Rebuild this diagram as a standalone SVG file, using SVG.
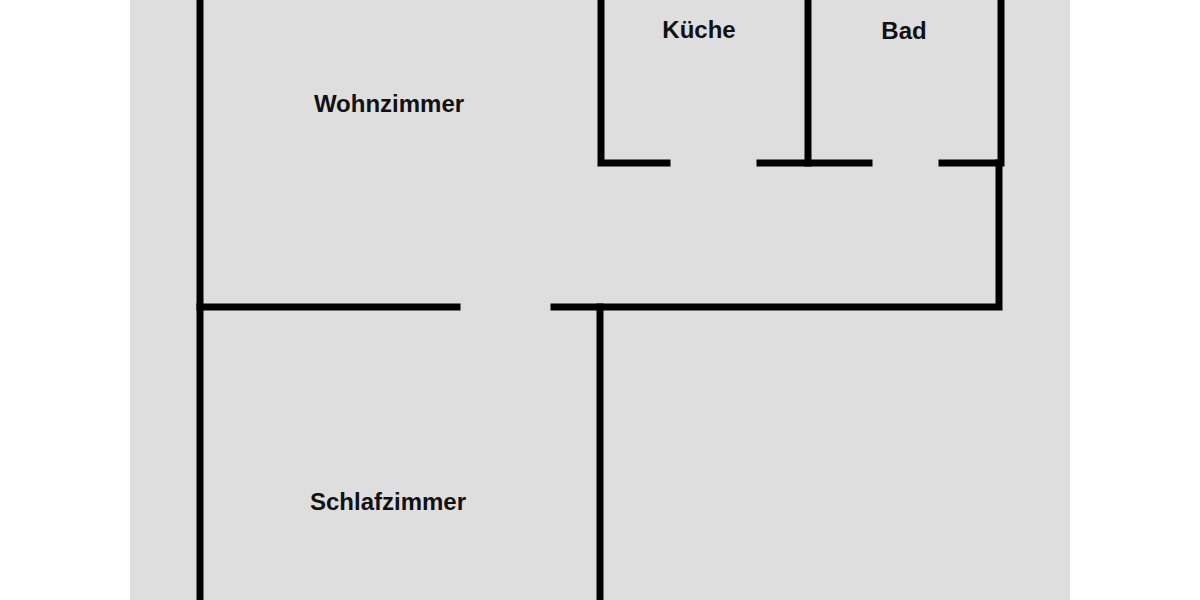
<svg xmlns="http://www.w3.org/2000/svg" width="1200" height="600" viewBox="0 0 1200 600">
<style>
.w{stroke:#000;stroke-width:7;fill:none;stroke-linecap:square}
.t{font-family:"Liberation Sans",Arial,sans-serif;font-size:24px;font-weight:bold;fill:#111;text-anchor:middle}
</style>
<rect width="1200" height="600" fill="#fff"/>
<rect x="130" y="0" width="940" height="600" fill="#dedede"/>
<g id="walls">
<path class="w" d="M200,0V600"/>
<path class="w" d="M601,0V163H667"/>
<path class="w" d="M808,0V163"/>
<path class="w" d="M760,163H869"/>
<path class="w" d="M942,163H1001V0"/>
<path class="w" d="M999,163V307H554"/>
<path class="w" d="M200,307H457"/>
<path class="w" d="M600,307V600"/>
</g>
<text class="t" x="389" y="112">Wohnzimmer</text>
<text class="t" x="699" y="38">Küche</text>
<text class="t" x="904" y="39">Bad</text>
<text class="t" x="388" y="510">Schlafzimmer</text>
</svg>
